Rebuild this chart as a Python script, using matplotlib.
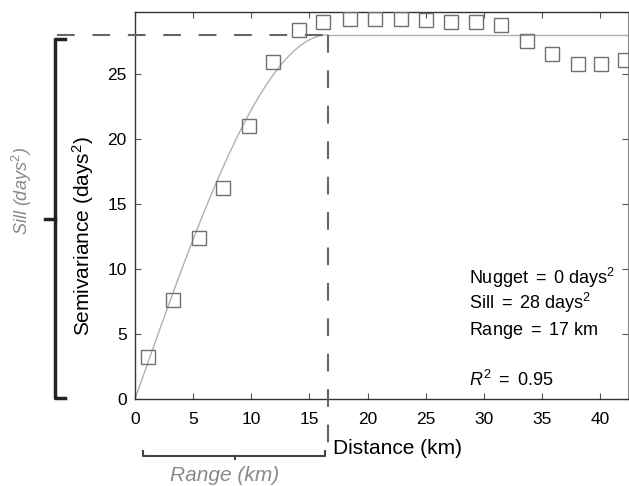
import numpy as np
import matplotlib
matplotlib.use("Agg")
import matplotlib.pyplot as plt

distance_km = [1.1, 3.3, 5.5, 7.6, 9.8, 11.9, 14.1, 16.2, 18.5, 20.65,
               22.85, 25.0, 27.2, 29.3, 31.5, 33.7, 35.85, 38.05, 40.1, 42.1]
semivariance = [3.25, 7.6, 12.4, 16.25, 21.0, 25.9, 28.4, 29.0, 29.2, 29.2,
                29.2, 29.15, 29.0, 29.0, 28.8, 27.5, 26.5, 25.8, 25.8, 26.1]

# Fitted spherical model
nugget = 0.0
sill = 28.0
model_range = 16.6
x_ticks = [0, 5, 10, 15, 20, 25, 30, 35, 40]
y_ticks = [0, 5, 10, 15, 20, 25]
stats_lines = [r"Nugget $=$ 0 days$^2$", r"Sill $=$ 28 days$^2$",
               r"Range $=$ 17 km", r"$R^2$ $=$ 0.95"]
stats_y = [8.85, 6.92, 4.92, 1.0]

plt.rcParams["font.family"] = ["Liberation Sans", "DejaVu Sans"]
plt.rcParams["mathtext.fontset"] = "custom"
plt.rcParams["mathtext.rm"] = "Liberation Sans"
plt.rcParams["mathtext.it"] = "Liberation Sans:italic"

fig = plt.figure(figsize=(6.29, 4.86), dpi=100)
ax = fig.add_axes([0.2146, 0.179, 0.784, 0.796])
ax.set_xlim(0, 42.4)
ax.set_ylim(0, 29.75)

# model curve
h = np.linspace(0, model_range, 200)
gamma = nugget + (sill - nugget) * (1.5 * h / model_range - 0.5 * (h / model_range) ** 3)
ax.plot(h, gamma, color="#b0b0b0", lw=1.0, zorder=2)
ax.plot([model_range, 42.4], [sill, sill], color="#b0b0b0", lw=1.0, zorder=2)

ax.plot(distance_km, semivariance, ls="none", marker="s", ms=9.5,
        mfc="none", mec="#707070", mew=1.0, zorder=3)

# dashed guides for sill and range
dash_kw = dict(color="#666666", lw=1.5, dashes=(8.5, 8.5), clip_on=False, zorder=4)
ax.plot([-6.7, model_range], [sill, sill], **dash_kw)
ax.plot([model_range, model_range], [sill, -4.4], **dash_kw)

# left bracket (sill)
bx = -6.88
ax.plot([bx + 0.85, bx, bx, bx + 0.85], [27.7, 27.7, 0.1, 0.1],
        color="#222222", lw=2.5, clip_on=False, solid_joinstyle="round")
ax.plot([bx - 0.85, bx], [13.85, 13.85], color="#222222", lw=2.5, clip_on=False)
ax.text(-9.72, 16.0, r"Sill ($\it{days}^2$)", rotation=90, ha="center", va="center",
        fontsize=13, style="italic", color="#888888")

# bottom bracket (range)
ax.plot([0.7, 0.7, 16.3, 16.3], [-4.0, -4.35, -4.35, -4.0],
        color="#444444", lw=1.5, clip_on=False)
ax.plot([8.6, 8.6], [-4.35, -4.6], color="#444444", lw=1.5, clip_on=False)
ax.text(7.7, -5.85, "Range (km)", ha="center", va="center",
        fontsize=15, style="italic", color="#888888")

ax.text(17.0, -3.77, "Distance (km)", ha="left", va="center", fontsize=15)
ax.text(-0.105, 0.42, r"Semivariance (days$^2$)", rotation=90, ha="center",
        va="center", fontsize=15, transform=ax.transAxes)

for line, yy in zip(stats_lines, stats_y):
    ax.text(28.73, yy, line, ha="left", va="baseline", fontsize=13)

ax.set_xticks(x_ticks)
ax.set_yticks(y_ticks)
ax.tick_params(direction="in", top=True, right=True, length=4, width=0.8,
               labelsize=12.5, color="#555555")
ax.tick_params(axis="x", pad=9)
ax.tick_params(axis="y", pad=6)
for side in ["left", "bottom", "top"]:
    ax.spines[side].set_color("#333333")
    ax.spines[side].set_linewidth(1.0)
ax.spines["right"].set_color("#888888")

fig.savefig("out.png", dpi=100)
